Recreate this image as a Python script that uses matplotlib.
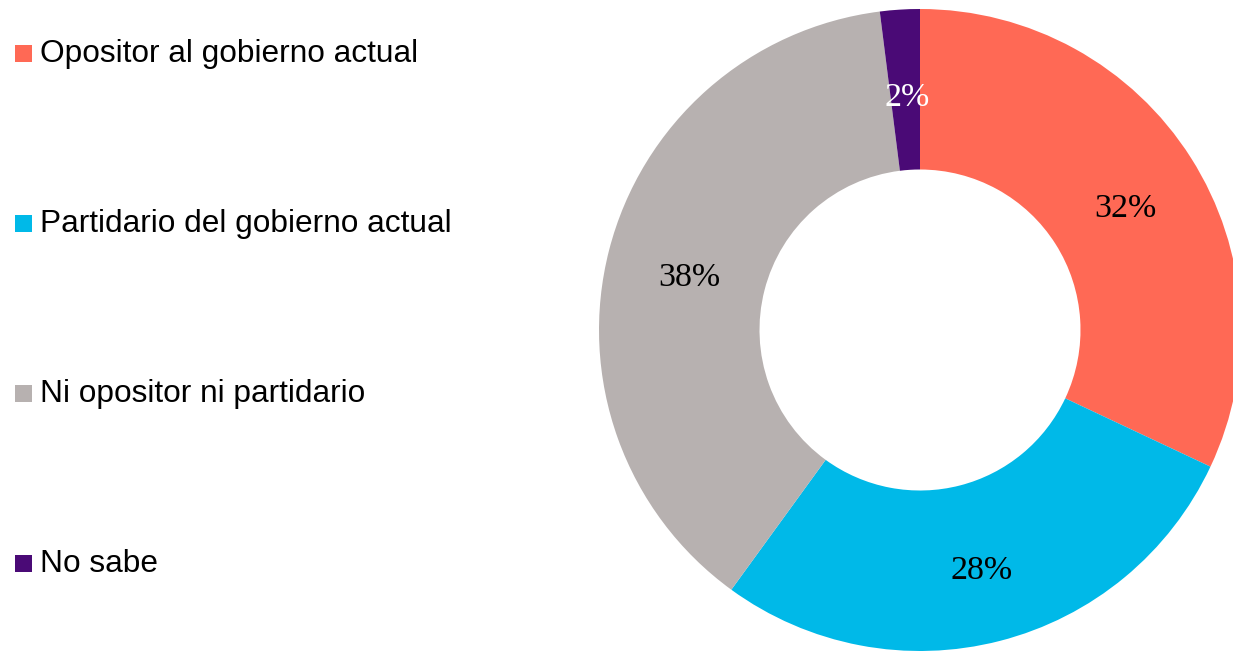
import matplotlib.pyplot as plt
from matplotlib.patches import Rectangle

# Survey shares, clockwise from 12 o'clock
labels = ["Opositor al gobierno actual", "Partidario del gobierno actual",
          "Ni opositor ni partidario", "No sabe"]
shares = [32, 28, 38, 2]
colors = ["#FF6955", "#00B9E8", "#B7B1B0", "#4A0A76"]
label_colors = ["black", "black", "black", "white"]

W, H = 1233, 651
fig = plt.figure(figsize=(W / 100, H / 100), dpi=100)
ax = fig.add_axes([0, 0, 1, 1])
ax.set_xlim(0, W)
ax.set_ylim(0, H)
ax.set_aspect("equal")
ax.axis("off")

cx, cy, R = 920, 651 - 330, 321
wedges, texts, autotexts = ax.pie(
    shares, colors=colors, startangle=90, counterclock=False,
    center=(cx, cy), radius=R, autopct="%d%%", pctdistance=0.75,
    wedgeprops=dict(width=R * 0.5, linewidth=0),
    textprops=dict(family="Liberation Serif", fontsize=24.5),
)
for t, c in zip(autotexts, label_colors):
    t.set_color(c)
    x, y = t.get_position()
    t.set_position((x + 2, y - 8))
ax.set_xlim(0, W)
ax.set_ylim(0, H)

# Legend down the left side
for i, (lab, col) in enumerate(zip(labels, colors)):
    y = H - 53 - i * 170
    ax.add_patch(Rectangle((15, y - 8.5), 17, 17, facecolor=col, edgecolor="none"))
    ax.text(40, y - 1, lab, family="Liberation Sans", fontsize=22.8,
            va="center", ha="left", color="black")

fig.savefig("out.png", dpi=100)
